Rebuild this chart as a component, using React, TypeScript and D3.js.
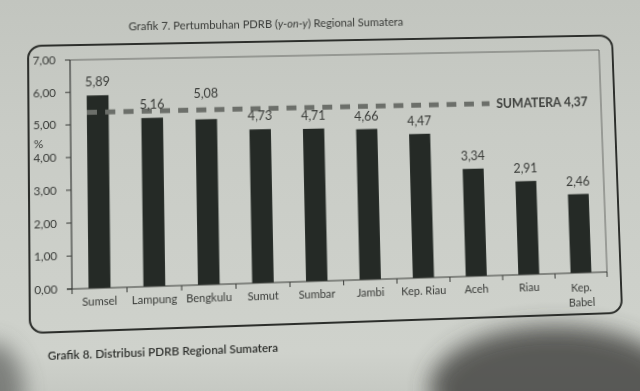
import React from "react";
import * as d3 from "d3";

const categories = ["Sumsel", "Lampung", "Bengkulu", "Sumut", "Sumbar", "Jambi", "Kep. Riau", "Aceh", "Riau", "Kep. Babel"];
const growth = [5.89, 5.16, 5.08, 4.73, 4.71, 4.66, 4.47, 3.34, 2.91, 2.46];
const yTicks = [0, 1, 2, 3, 4, 5, 6, 7];
const sumateraLabel = "SUMATERA 4,37";
const sumateraLineLevel = 5.37; // level at which the dashed line is drawn in the picture

const fmt = (v: number) => v.toFixed(2).replace(".", ",");

function solve(A: number[][], b: number[]): number[] {
  const n = b.length;
  const M = A.map((r, i) => [...r, b[i]]);
  for (let c = 0; c < n; c++) {
    let p = c;
    for (let r = c + 1; r < n; r++) if (Math.abs(M[r][c]) > Math.abs(M[p][c])) p = r;
    [M[c], M[p]] = [M[p], M[c]];
    for (let r = 0; r < n; r++) {
      if (r === c) continue;
      const f = M[r][c] / M[c][c];
      for (let k = c; k <= n; k++) M[r][k] -= f * M[c][k];
    }
  }
  return M.map((r, i) => r[n] / r[i]);
}

function homography(src: number[][], dst: number[][]) {
  const A: number[][] = [];
  const b: number[] = [];
  for (let i = 0; i < 4; i++) {
    const [x, y] = src[i];
    const [u, v] = dst[i];
    A.push([x, y, 1, 0, 0, 0, -u * x, -u * y]);
    b.push(u);
    A.push([0, 0, 0, x, y, 1, -v * x, -v * y]);
    b.push(v);
  }
  const h = solve(A, b);
  return `matrix3d(${h[0]},${h[3]},0,${h[6]},${h[1]},${h[4]},0,${h[7]},0,0,1,0,${h[2]},${h[5]},0,1)`;
}

export default function App() {
  const L = 72, R = 607, T = 60, B = 289;
  const x = d3.scaleBand<string>().domain(categories).range([L, R]).paddingInner(0.6).paddingOuter(0.3);
  const y = d3.scaleLinear().domain([0, 7]).range([B, T]);
  const bounds = d3.range(categories.length + 1).map((i) => L + (i * (R - L)) / categories.length);

  const transform = homography(
    [[L, B], [R, B], [L, T], [R, T]],
    [[72, 289], [607, 272], [70, 60], [599, 50]]
  );

  const textColor = "#393b38";
  const font = "Lato, 'Open Sans', sans-serif";
  const lineY = y(sumateraLineLevel);

  return (
    <div style={{ position: "absolute", left: 0, top: 0, width: 640, height: 391, overflow: "hidden", background: "#c9ccc6" }}>
      <svg width={640} height={391} style={{ position: "absolute", left: 0, top: 0 }}>
        <defs>
          <linearGradient id="paper" x1="0" y1="0" x2="0" y2="1">
            <stop offset="0" stopColor="#c2c5bf" />
            <stop offset="0.35" stopColor="#c9ccc6" />
            <stop offset="0.9" stopColor="#cfd2cc" />
            <stop offset="1" stopColor="#c6c9c3" />
          </linearGradient>
          <filter id="soft" x="-60%" y="-60%" width="220%" height="220%">
            <feGaussianBlur stdDeviation="11" />
          </filter>
        </defs>
        <rect width={640} height={391} fill="url(#paper)" />
        <ellipse cx={555} cy={388} rx={125} ry={62} fill="#3c3e3b" opacity={0.8} filter="url(#soft)" />
        <ellipse cx={-8} cy={392} rx={32} ry={50} fill="#4a4c49" opacity={0.6} filter="url(#soft)" />
      </svg>
      <svg
        width={640}
        height={391}
        style={{ position: "absolute", left: 0, top: 0, transform, transformOrigin: "0 0" }}
        fontFamily={font}
      >
        <text x={268} y={31} textAnchor="middle" fontSize={11.2} fill={textColor}>
          Grafik 7. Pertumbuhan PDRB (<tspan fontStyle="italic">y-on-y</tspan>) Regional Sumatera
        </text>

        <rect x={31} y={45} width={590} height={286} rx={13} ry={13} fill="none" stroke="#2c2e2b" strokeWidth={2} />

        <path d={`M${L},${T}H${R}V${B}`} fill="none" stroke="#666964" strokeWidth={1} />

        {categories.map((c, i) => (
          <rect key={c} x={x(c)} y={y(growth[i])} width={x.bandwidth()} height={B - y(growth[i])} fill="#252a26" />
        ))}

        <line x1={88} x2={492} y1={lineY} y2={lineY} stroke="#6c6f6a" strokeWidth={5} strokeDasharray="10 8" />
        <text x={499} y={lineY + 4.5} fontSize={12.5} fontWeight="bold" fill="#3d3f3c">
          {sumateraLabel}
        </text>

        {categories.map((c, i) => (
          <text
            key={c}
            x={(x(c) as number) + x.bandwidth() / 2}
            y={y(growth[i]) - 9 - (i === 2 ? 13 : 0)}
            textAnchor="middle"
            fontSize={12.5}
            fill={textColor}
          >
            {fmt(growth[i])}
          </text>
        ))}

        <line x1={L} x2={L} y1={T} y2={B} stroke="#3a3c39" strokeWidth={1.2} />
        {yTicks.map((t) => (
          <g key={t}>
            <line x1={L - 5} x2={L} y1={y(t)} y2={y(t)} stroke="#3a3c39" strokeWidth={1} />
            <text x={L - 14} y={y(t) + 4} textAnchor="end" fontSize={11.5} fill={textColor}>
              {fmt(t)}
            </text>
          </g>
        ))}
        <text x={36} y={148} fontSize={11.5} fill={textColor}>%</text>

        <line x1={L - 5} x2={R} y1={B} y2={B} stroke="#3a3c39" strokeWidth={1.2} />
        {bounds.map((b, i) => (
          <line key={i} x1={b} x2={b} y1={B} y2={B + 5} stroke="#3a3c39" strokeWidth={1} />
        ))}
        {categories.map((c) => {
          const cx = (x(c) as number) + x.bandwidth() / 2;
          const parts = c === "Kep. Babel" ? ["Kep.", "Babel"] : [c];
          return (
            <text key={c} x={cx} y={parts.length > 1 ? B + 19 : B + 17} textAnchor="middle" fontSize={11} fill={textColor}>
              {parts.map((p, j) => (
                <tspan key={j} x={cx} dy={j === 0 ? 0 : 15}>
                  {p}
                </tspan>
              ))}
            </text>
          );
        })}

        <text x={48} y={358} fontSize={11.5} fill="#2f312e" fontWeight={600}>
          Grafik 8. Distribusi PDRB Regional Sumatera
        </text>
      </svg>
    </div>
  );
}
